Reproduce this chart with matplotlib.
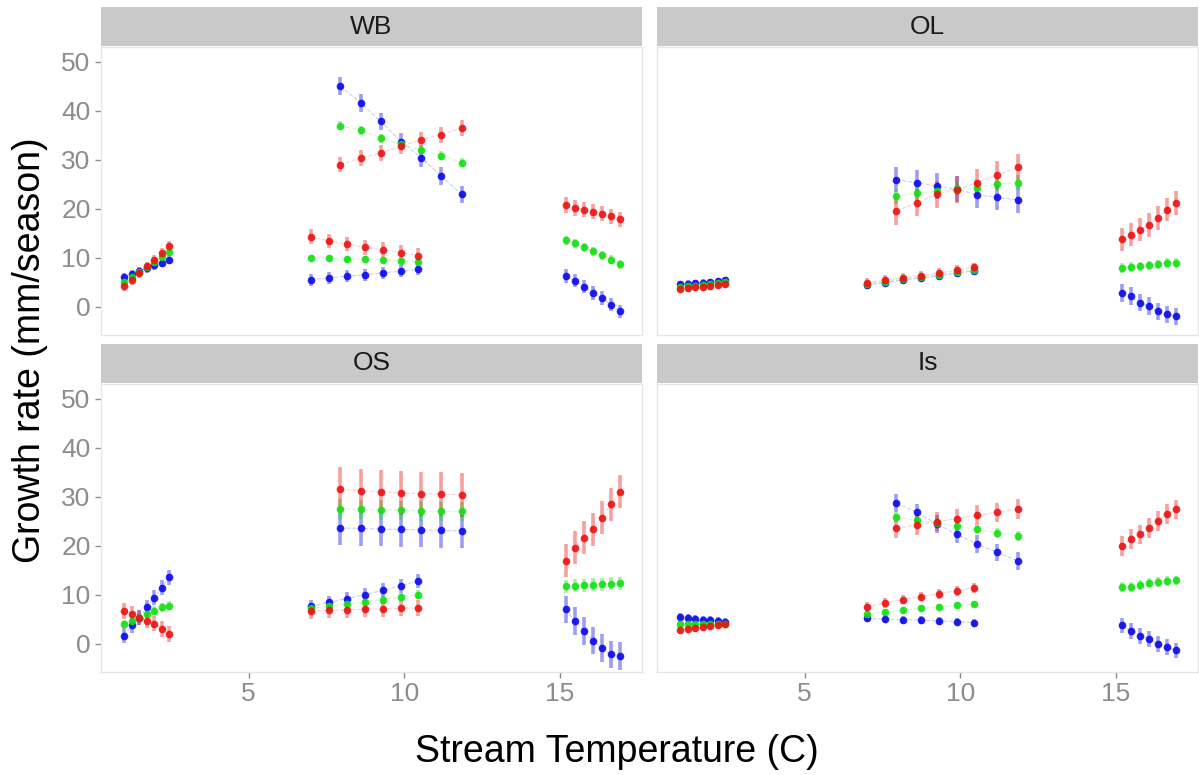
import numpy as np
import matplotlib
matplotlib.use("Agg")
import matplotlib.pyplot as plt

plt.rcParams['font.family'] = ['Liberation Sans', 'DejaVu Sans']

# temperatures of the four groups of points (same in every panel)
temp_g1 = [1.0, 1.24, 1.48, 1.72, 1.96, 2.2, 2.44]
temp_g2 = [7.0, 7.58, 8.16, 8.74, 9.32, 9.9, 10.45]
temp_g3 = [7.95, 8.6, 9.25, 9.9, 10.55, 11.2, 11.85]
temp_g4 = [15.2, 15.49, 15.78, 16.07, 16.36, 16.65, 16.94]

panels = ["WB", "OL", "OS", "Is"]

# growth rate, per panel and colour, groups g1..g4 one after the other
wb_red = [4.2, 5.5, 6.9, 8.2, 9.6, 10.9, 12.3,
          14.3, 13.4, 12.8, 12.1, 11.6, 11.0, 10.4,
          29.0, 30.3, 31.4, 32.7, 34.1, 35.1, 36.5,
          20.8, 20.1, 19.8, 19.4, 19.0, 18.4, 17.8]
wb_green = [5.0, 6.0, 7.1, 8.1, 9.1, 10.2, 11.2,
            10.0, 9.9, 9.8, 9.7, 9.6, 9.4, 9.2,
            36.9, 36.0, 34.4, 33.1, 32.0, 30.8, 29.4,
            13.5, 12.9, 12.1, 11.3, 10.5, 9.6, 8.6]
wb_blue = [6.0, 6.6, 7.2, 7.8, 8.4, 9.0, 9.6,
           5.5, 5.9, 6.2, 6.5, 6.9, 7.2, 7.6,
           45.0, 41.6, 37.8, 33.7, 30.4, 26.6, 22.9,
           6.2, 5.3, 4.1, 2.8, 1.7, 0.4, -1.0]

ol_red = [3.5, 3.7, 3.9, 4.0, 4.2, 4.4, 4.6,
          4.8, 5.4, 5.9, 6.3, 6.9, 7.4, 8.0,
          19.5, 21.2, 22.9, 23.9, 25.3, 26.9, 28.4,
          13.7, 14.7, 15.7, 16.7, 18.1, 19.8, 21.2]
ol_green = [4.0, 4.2, 4.3, 4.5, 4.6, 4.8, 5.0,
            4.6, 5.1, 5.6, 6.0, 6.5, 7.0, 7.5,
            22.5, 23.1, 23.6, 24.0, 24.3, 25.0, 25.3,
            7.9, 8.1, 8.2, 8.4, 8.6, 8.9, 9.0]
ol_blue = [4.6, 4.7, 4.8, 4.9, 5.0, 5.2, 5.4,
           4.4, 4.9, 5.4, 5.8, 6.3, 6.8, 7.3,
           25.9, 25.3, 24.6, 24.0, 22.8, 22.3, 21.8,
           2.8, 2.1, 0.8, 0.1, -1.0, -1.6, -2.0]

os_red = [6.7, 6.1, 5.3, 4.7, 4.1, 3.0, 2.0,
          6.7, 6.8, 6.9, 7.0, 7.1, 7.2, 7.3,
          31.5, 31.2, 31.0, 30.8, 30.6, 30.5, 30.4,
          16.9, 19.6, 21.6, 23.3, 25.7, 28.4, 31.0]
os_green = [4.0, 4.7, 5.3, 6.1, 6.7, 7.4, 7.7,
            7.2, 7.6, 8.1, 8.5, 9.0, 9.5, 10.0,
            27.5, 27.4, 27.3, 27.2, 27.1, 27.0, 27.0,
            11.7, 11.8, 11.9, 12.0, 12.1, 12.2, 12.3]
os_blue = [1.6, 3.7, 5.3, 7.4, 9.4, 11.4, 13.5,
           7.6, 8.4, 9.2, 10.0, 10.9, 11.8, 12.8,
           23.6, 23.5, 23.4, 23.3, 23.2, 23.1, 23.0,
           7.0, 4.6, 2.6, 0.6, -0.9, -2.2, -2.5]

is_red = [2.8, 3.0, 3.2, 3.4, 3.5, 3.7, 3.9,
          7.4, 8.3, 9.0, 9.6, 10.2, 10.8, 11.4,
          23.5, 24.2, 24.9, 25.5, 26.2, 26.8, 27.5,
          19.9, 21.3, 22.3, 23.6, 25.0, 26.4, 27.4]
is_green = [4.1, 4.1, 4.1, 4.0, 4.0, 4.0, 4.0,
            6.0, 6.4, 6.8, 7.2, 7.5, 7.8, 8.0,
            25.8, 25.2, 24.6, 24.0, 23.3, 22.6, 22.0,
            11.5, 11.6, 12.0, 12.3, 12.5, 12.8, 12.9]
is_blue = [5.5, 5.3, 5.1, 4.9, 4.8, 4.6, 4.5,
           5.2, 5.0, 4.9, 4.8, 4.6, 4.5, 4.3,
           28.7, 26.8, 24.4, 22.3, 20.3, 18.6, 16.9,
           3.7, 2.6, 1.6, 0.9, -0.1, -0.7, -1.4]

# half-width of the error bars, one value per group
wb_err_red, wb_err_green, wb_err_blue = [1.0, 1.5, 1.6, 1.6], [0.6, 0.6, 0.9, 0.9], [0.9, 1.2, 1.8, 1.4]
ol_err_red, ol_err_green, ol_err_blue = [0.8, 1.0, 2.8, 2.4], [0.5, 0.6, 1.5, 1.0], [0.7, 0.8, 2.6, 1.8]
os_err_red, os_err_green, os_err_blue = [1.6, 1.6, 4.5, 3.4], [0.9, 0.9, 2.0, 1.3], [1.5, 1.4, 3.5, 2.8]
is_err_red, is_err_green, is_err_blue = [0.8, 1.0, 2.0, 2.0], [0.5, 0.6, 1.0, 1.0], [0.8, 0.8, 1.8, 1.6]

series = {
    "WB": [(wb_blue, wb_err_blue), (wb_green, wb_err_green), (wb_red, wb_err_red)],
    "OL": [(ol_blue, ol_err_blue), (ol_green, ol_err_green), (ol_red, ol_err_red)],
    "OS": [(os_blue, os_err_blue), (os_green, os_err_green), (os_red, os_err_red)],
    "Is": [(is_blue, is_err_blue), (is_green, is_err_green), (is_red, is_err_red)],
}
colours = ["#0a0aee", "#14e014", "#ee1212"]
groups = [temp_g1, temp_g2, temp_g3, temp_g4]

W, H = 1199, 775
fig = plt.figure(figsize=(W / 100, H / 100), dpi=100)

lefts = [101, 657]
tops = [47, 384]
pw, ph = 541, 288
strip_h = 39

tick_col = '#8c8c8c'
for k, name in enumerate(panels):
    r, c = divmod(k, 2)
    x0, y0 = lefts[c], tops[r]
    ax = fig.add_axes([x0 / W, 1 - (y0 + ph) / H, pw / W, ph / H])
    sax = fig.add_axes([x0 / W, 1 - (y0 - 1) / H, pw / W, strip_h / H])
    sax.set_facecolor('#c9c9c9')
    sax.set_xticks([])
    sax.set_yticks([])
    for s in sax.spines.values():
        s.set_visible(False)
    sax.text(0.5, 0.5, name, ha='center', va='center', fontsize=19, color='#1a1a1a',
             transform=sax.transAxes)

    for (vals, errs), col in zip(series[name], colours):
        for g, xs in enumerate(groups):
            ys = vals[g * 7:(g + 1) * 7]
            ax.plot(xs, ys, color=col, lw=0.8, alpha=0.2, ls='--', zorder=1)
            ax.errorbar(xs, ys, yerr=errs[g], fmt='none', ecolor=col, elinewidth=2.6,
                        alpha=0.4, capsize=0, zorder=2)
            ax.plot(xs, ys, 'o', color=col, ms=5.5, mec='none', alpha=0.9, zorder=3)

    ax.set_xlim(0.25, 17.65)
    ax.set_ylim(-5.8, 53.0)
    ax.set_xticks([5, 10, 15])
    ax.set_yticks([0, 10, 20, 30, 40, 50])
    for s in ax.spines.values():
        s.set_color('#e6e6e6')
        s.set_linewidth(1.0)
    ax.tick_params(colors=tick_col, labelcolor=tick_col, labelsize=19, length=4, width=1)
    if c == 1:
        ax.tick_params(axis='y', labelleft=False, length=0)
    if r == 0:
        ax.tick_params(axis='x', labelbottom=False, length=0)

fig.text(617 / W, 1 - 752 / H, "Stream Temperature (C)", ha='center', va='center', fontsize=27)
fig.text(30 / W, 1 - 350 / H, "Growth rate (mm/season)", ha='center', va='center',
         fontsize=27, rotation=90)

fig.savefig("out.png", dpi=100)
